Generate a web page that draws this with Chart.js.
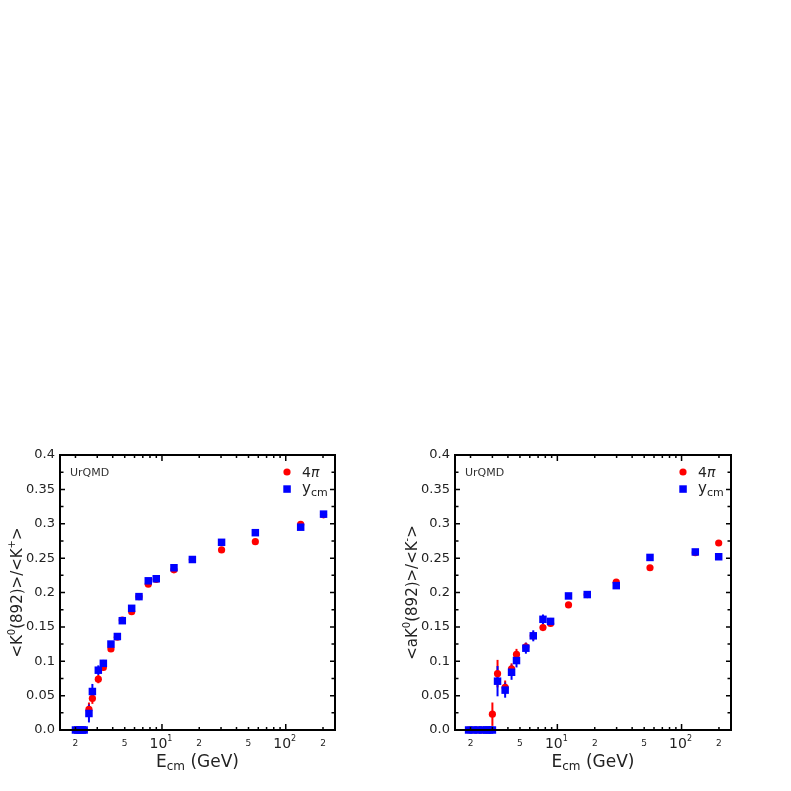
<!DOCTYPE html>
<html>
<head>
<meta charset="utf-8">
<script src="https://cdn.jsdelivr.net/npm/chart.js@4.4.0/dist/chart.umd.min.js"></script>
<style>
  body { margin: 0; background: #fff; }
  #wrap { position: relative; width: 791px; height: 791px; }
  canvas { position: absolute; }
</style>
</head>
<body>
<div id="wrap">
  <canvas id="left" width="395" height="351" style="left:0px;top:440px;width:395px;height:351px"></canvas>
  <canvas id="right" width="396" height="351" style="left:395px;top:440px;width:396px;height:351px"></canvas>
</div>
<script>
// left panel: <K0(892)>/<K+> vs E_cm
const energyKp = [2.0, 2.09, 2.18, 2.27, 2.35, 2.57, 2.74, 3.06, 3.36, 3.87, 4.36, 4.78, 5.69, 6.52, 7.75, 8.99, 12.5, 17.6, 30.3, 56.8, 132, 202];
const kp4pi    = [0, 0, 0, 0, 0, 0.030, 0.046, 0.074, 0.091, 0.118, 0.135, 0.160, 0.172, 0.194, 0.212, 0.219, 0.233, 0.248, 0.262, 0.274, 0.299, 0.313];
const kp4piErr = [0, 0, 0, 0, 0, 0.010, 0.008, 0.006, 0.004, 0.003, 0.003, 0.003, 0.003, 0.003, 0.003, 0.002, 0.002, 0.002, 0.002, 0.002, 0.002, 0.002];
const kpYcm    = [0, 0, 0, 0, 0, 0.024, 0.056, 0.087, 0.097, 0.125, 0.136, 0.159, 0.177, 0.194, 0.217, 0.220, 0.236, 0.248, 0.273, 0.287, 0.295, 0.314];
const kpYcmErr = [0, 0, 0, 0, 0, 0.013, 0.011, 0.007, 0.005, 0.004, 0.003, 0.003, 0.003, 0.003, 0.003, 0.003, 0.002, 0.002, 0.002, 0.002, 0.002, 0.002];

// right panel: <aK0(892)>/<K-> vs E_cm
const energyKm = [1.93, 2.1, 2.3, 2.5, 2.7, 2.85, 3.0, 3.30, 3.80, 4.28, 4.69, 5.58, 6.40, 7.66, 8.82, 12.3, 17.4, 29.8, 55.7, 129, 199];
const km4pi    = [0, 0, 0, 0, 0, 0, 0.023, 0.082, 0.062, 0.089, 0.110, 0.121, 0.137, 0.149, 0.155, 0.182, 0.197, 0.215, 0.236, 0.258, 0.272];
const km4piErr = [0, 0, 0, 0, 0, 0, 0.017, 0.020, 0.010, 0.008, 0.008, 0.006, 0.006, 0.004, 0.004, 0.003, 0.003, 0.003, 0.003, 0.003, 0.003];
const kmYcm    = [0, 0, 0, 0, 0, 0, 0, 0.071, 0.058, 0.084, 0.101, 0.119, 0.137, 0.161, 0.158, 0.195, 0.197, 0.210, 0.251, 0.259, 0.252];
const kmYcmErr = [0, 0, 0, 0, 0, 0, 0, 0.022, 0.011, 0.011, 0.010, 0.008, 0.008, 0.007, 0.005, 0.004, 0.003, 0.003, 0.003, 0.003, 0.003];

const xTickLabels = [2, 5, 10, 20, 50, 100, 200];
const FONT = '"DejaVu Sans", sans-serif';
const RED = '#ff0000';
const BLUE = '#0000ff';

// draws a row of text pieces [text, size, dy, style]
function drawRich(ctx, parts, x, y, align) {
    let w = 0;
    parts.forEach(p => {
        ctx.font = (p[3] || '') + ' ' + p[1] + 'px ' + FONT;
        w += ctx.measureText(p[0]).width;
    });
    let cx = align === 'center' ? x - w / 2 : x;
    ctx.textAlign = 'left';
    ctx.textBaseline = 'middle';
    parts.forEach(p => {
        ctx.font = (p[3] || '') + ' ' + p[1] + 'px ' + FONT;
        ctx.fillText(p[0], cx, y + (p[2] || 0));
        cx += ctx.measureText(p[0]).width;
    });
}

const panelDecor = {
    id: 'panelDecor',
    beforeDatasetsDraw(chart) {
        const ctx = chart.ctx;
        const y = chart.scales.y;
        ctx.save();
        ctx.lineWidth = 2;
        // red error bars first, blue on top of them
        for (let i = chart.data.datasets.length - 1; i >= 0; i--) {
            const ds = chart.data.datasets[i];
            const meta = chart.getDatasetMeta(i);
            ctx.strokeStyle = ds.borderColor;
            meta.data.forEach((pt, j) => {
                const err = ds.errors[j];
                if (!err) return;
                const v = ds.data[j].y;
                ctx.beginPath();
                ctx.moveTo(pt.x, y.getPixelForValue(v + err));
                ctx.lineTo(pt.x, y.getPixelForValue(v - err));
                ctx.stroke();
            });
        }
        ctx.restore();
    },
    afterDraw(chart, args, opts) {
        const ctx = chart.ctx;
        const a = chart.chartArea;
        const xs = chart.scales.x, ys = chart.scales.y;
        ctx.save();
        ctx.strokeStyle = '#000';
        ctx.fillStyle = '#222';

        // tick marks on all four sides, pointing inwards
        ctx.lineWidth = 1.5;
        ctx.beginPath();
        for (let k = 0; k <= 16; k++) {
            const py = ys.getPixelForValue(k * 0.025);
            const len = k % 2 === 0 ? 5 : 3.5;
            ctx.moveTo(a.left, py); ctx.lineTo(a.left + len, py);
            ctx.moveTo(a.right, py); ctx.lineTo(a.right - len, py);
        }
        [1, 10, 100].forEach(d => {
            for (let m = 1; m <= 9; m++) {
                const v = m * d;
                if (v < xs.min || v > xs.max) continue;
                const px = xs.getPixelForValue(v);
                const len = m === 1 ? 6 : 3;
                ctx.moveTo(px, a.bottom); ctx.lineTo(px, a.bottom - len);
                ctx.moveTo(px, a.top); ctx.lineTo(px, a.top + len);
            }
        });
        ctx.stroke();

        // frame
        ctx.lineWidth = 2;
        ctx.strokeRect(a.left, a.top, a.right - a.left, a.bottom - a.top);

        // x tick labels
        xTickLabels.forEach(v => {
            const px = xs.getPixelForValue(v);
            const lead = String(v)[0];
            if (v === 10 || v === 100) {
                drawRich(ctx, [['10', 14], [v === 10 ? '1' : '2', 8, -5]], px - 1, a.bottom + 14, 'center');
            } else {
                drawRich(ctx, [[lead, 9]], px, a.bottom + 14, 'center');
            }
        });

        // x title
        drawRich(ctx, [['E', 17], ['cm', 12, 4], [' (GeV)', 17]], (a.left + a.right) / 2, a.bottom + 33, 'center');

        // y title
        ctx.save();
        ctx.translate(18, (a.top + a.bottom) / 2);
        ctx.rotate(-Math.PI / 2);
        drawRich(ctx, opts.yTitle, 0, 0, 'center');
        ctx.restore();

        // label and legend
        ctx.fillStyle = '#333';
        drawRich(ctx, [['UrQMD', 11]], a.left + 10, a.top + 18, 'left');

        const lx = a.right - 48;
        ctx.fillStyle = RED;
        ctx.beginPath();
        ctx.arc(lx, a.top + 17, 3.6, 0, Math.PI * 2);
        ctx.fill();
        ctx.fillStyle = BLUE;
        ctx.fillRect(lx - 3.7, a.top + 30.3, 7.5, 7.5);
        ctx.fillStyle = '#222';
        drawRich(ctx, [['4', 14], ['π', 14, 0, 'italic']], lx + 15, a.top + 18, 'left');
        drawRich(ctx, [['y', 15], ['cm', 11, 4]], lx + 15, a.top + 34, 'left');
        ctx.restore();
    }
};

function makePanel(id, energies, red, redErr, blue, blueErr, yTitle) {
    const redPts = energies.map((e, i) => ({ x: e, y: red[i] }));
    const bluePts = energies.map((e, i) => ({ x: e, y: blue[i] }));
    return new Chart(document.getElementById(id), {
        type: 'scatter',
        data: {
            datasets: [{
                label: 'ycm',
                data: bluePts,
                errors: blueErr,
                pointStyle: 'rect',
                pointRadius: 5.3,
                backgroundColor: BLUE,
                borderColor: BLUE,
                borderWidth: 0,
                clip: false
            }, {
                label: '4pi',
                data: redPts,
                errors: redErr,
                pointStyle: 'circle',
                pointRadius: 3.6,
                backgroundColor: RED,
                borderColor: RED,
                borderWidth: 0,
                clip: false
            }]
        },
        options: {
            responsive: false,
            animation: false,
            layout: { padding: { top: 15, right: 60, bottom: 0, left: 0 } },
            scales: {
                x: {
                    type: 'logarithmic',
                    min: 1.5,
                    max: 250,
                    grid: { display: false, drawTicks: false },
                    border: { display: false },
                    ticks: { display: false },
                    afterFit: s => { s.height = 61; }
                },
                y: {
                    min: 0,
                    max: 0.4,
                    grid: { display: false, drawTicks: false },
                    border: { display: false },
                    ticks: {
                        stepSize: 0.05,
                        padding: 5,
                        color: '#222',
                        font: { family: FONT, size: 13 },
                        callback: v => v === 0 ? '0.0' : String(+v.toFixed(2))
                    },
                    afterFit: s => { s.width = 60; }
                }
            },
            plugins: {
                legend: { display: false },
                tooltip: { enabled: false },
                panelDecor: { yTitle: yTitle }
            }
        },
        plugins: [panelDecor]
    });
}

makePanel('left', energyKp, kp4pi, kp4piErr, kpYcm, kpYcmErr,
    [['<K', 15], ['0', 10, -6], ['(892)>/<K', 15], ['+', 10, -6], ['>', 15]]);
makePanel('right', energyKm, km4pi, km4piErr, kmYcm, kmYcmErr,
    [['<aK', 15], ['0', 10, -6], ['(892)>/<K', 15], ['-', 10, -6], ['>', 15]]);
</script>
</body>
</html>
